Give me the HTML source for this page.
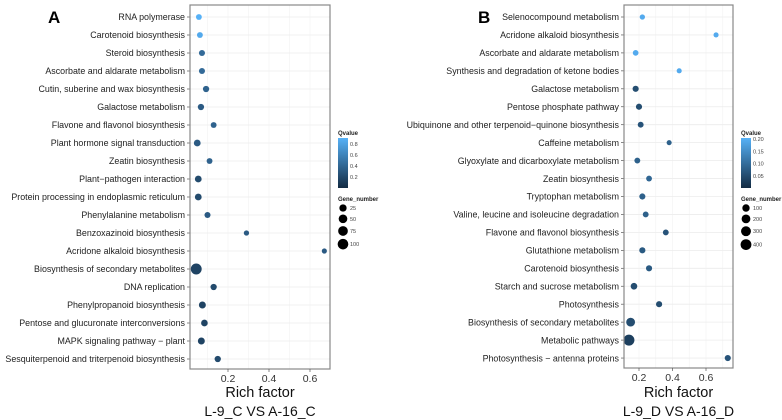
<!DOCTYPE html>
<html><head><meta charset="utf-8"><style>
html,body{margin:0;padding:0;background:#fff;}
svg{display:block;font-family:"Liberation Sans",sans-serif;}
</style></head><body>
<svg id="chart" width="782" height="420" viewBox="0 0 782 420"></svg>
<script>
// ---- Panel A data ----
const catsA=["RNA polymerase","Carotenoid biosynthesis","Steroid biosynthesis","Ascorbate and aldarate metabolism","Cutin, suberine and wax biosynthesis","Galactose metabolism","Flavone and flavonol biosynthesis","Plant hormone signal transduction","Zeatin biosynthesis","Plant\u2212pathogen interaction","Protein processing in endoplasmic reticulum","Phenylalanine metabolism","Benzoxazinoid biosynthesis","Acridone alkaloid biosynthesis","Biosynthesis of secondary metabolites","DNA replication","Phenylpropanoid biosynthesis","Pentose and glucuronate interconversions","MAPK signaling pathway \u2212 plant","Sesquiterpenoid and triterpenoid biosynthesis"];
const richA=[0.058,0.063,0.073,0.073,0.093,0.068,0.13,0.05,0.11,0.055,0.055,0.10,0.29,0.67,0.045,0.13,0.075,0.085,0.07,0.15];
const qA=[0.85,0.8,0.4,0.4,0.35,0.3,0.35,0.3,0.35,0.2,0.2,0.3,0.3,0.3,0.15,0.2,0.15,0.15,0.15,0.2];
const genesA=[8,8,10,10,12,12,8,18,8,18,18,10,4,3,110,12,20,16,20,12];
const ticksA=[0.2,0.4,0.6];
const qTicksA=[0.8,0.6,0.4,0.2];
const gTicksA=[25,50,75,100];
// ---- Panel B data ----
const catsB=["Selenocompound metabolism","Acridone alkaloid biosynthesis","Ascorbate and aldarate metabolism","Synthesis and degradation of ketone bodies","Galactose metabolism","Pentose phosphate pathway","Ubiquinone and other terpenoid\u2212quinone biosynthesis","Caffeine metabolism","Glyoxylate and dicarboxylate metabolism","Zeatin biosynthesis","Tryptophan metabolism","Valine, leucine and isoleucine degradation","Flavone and flavonol biosynthesis","Glutathione metabolism","Carotenoid biosynthesis","Starch and sucrose metabolism","Photosynthesis","Biosynthesis of secondary metabolites","Metabolic pathways","Photosynthesis \u2212 antenna proteins"];
const richB=[0.22,0.66,0.18,0.44,0.18,0.20,0.21,0.38,0.19,0.26,0.22,0.24,0.36,0.22,0.26,0.17,0.32,0.15,0.14,0.73];
const qB=[0.19,0.19,0.19,0.19,0.05,0.05,0.06,0.08,0.08,0.09,0.08,0.08,0.06,0.07,0.07,0.05,0.05,0.05,0.03,0.06];
const genesB=[15,10,25,10,40,40,30,10,30,30,40,30,30,40,40,60,40,200,420,40];
const ticksB=[0.2,0.4,0.6];
const qTicksB=[0.20,0.15,0.10,0.05];
const gTicksB=[100,200,300,400];

const NS="http://www.w3.org/2000/svg";
const svg=document.getElementById('chart');
function mk(tag,attrs,parent,text){const e=document.createElementNS(NS,tag);for(const k in attrs)e.setAttribute(k,attrs[k]);if(text!==undefined)e.textContent=text;(parent||svg).appendChild(e);return e;}
function lerpColor(t){t=Math.max(0,Math.min(1,t));const a=[19,43,67],b=[86,177,247];return `rgb(${Math.round(a[0]+(b[0]-a[0])*t)},${Math.round(a[1]+(b[1]-a[1])*t)},${Math.round(a[2]+(b[2]-a[2])*t)})`;}

function panel(cfg){
  const g=mk('g',{});
  
  
  const L=cfg.left,R=cfg.right,T=cfg.top,B=cfg.bottom;
  const x=v=>cfg.x0+v*cfg.scale;
  const y=i=>cfg.y0+i*cfg.dy;
  const bg=mk('rect',{x:L,y:T,width:R-L,height:B-T,fill:'#fff'},g);
  
  const minors=[];for(let v=0.1;v<=0.9;v+=0.1){const px=x(v);if(px>L&&px<R)minors.push(px);}
  minors.forEach(px=>mk('line',{x1:px,x2:px,y1:T,y2:B,stroke:'#f2f2f2','stroke-width':0.6},g));
  cfg.cats.forEach((c,i)=>mk('line',{x1:L,x2:R,y1:y(i),y2:y(i),stroke:'#ececec','stroke-width':0.8},g));
  cfg.cats.forEach((c,i)=>{
    const r=cfg.rad(cfg.genes[i]);
    const p=mk('circle',{cx:x(cfg.rich[i]),cy:y(i),r:r,fill:lerpColor(cfg.q[i]/cfg.qmax)},g);
    
    
    const lb=mk('text',{x:L-5,y:y(i)+3.2,'text-anchor':'end','font-size':cfg.fs,fill:'#222'},g,c);
    
    
    mk('line',{x1:L-3,x2:L,y1:y(i),y2:y(i),stroke:'#555','stroke-width':0.7},g);
  });
  mk('rect',{x:L,y:T,width:R-L,height:B-T,fill:'none',stroke:'#888','stroke-width':1.2},g);
  cfg.ticks.forEach(v=>{
    mk('line',{x1:x(v),x2:x(v),y1:B,y2:B+3,stroke:'#555','stroke-width':0.7},g);
    const t=mk('text',{x:x(v),y:B+13,'text-anchor':'middle','font-size':10.5,fill:'#333'},g,v.toFixed(1));
    
    
  });
  const xt=mk('text',{x:(L+R)/2,y:397,'text-anchor':'middle','font-size':14.5,fill:'#111'},g,'Rich factor');
  
  const st=mk('text',{x:(L+R)/2,y:416,'text-anchor':'middle','font-size':14,fill:'#111'},g,cfg.sub);
  
  const pl=mk('text',{x:cfg.letterX,y:23,'font-size':17,'font-weight':'bold',fill:'#000'},g,cfg.letter);
  
  const lx=cfg.lx;
  const qt=mk('text',{x:lx,y:135,'font-size':6,'font-weight':'bold',fill:'#222'},g,'Qvalue');
  
  const gradId='grad'+cfg.letter;
  const defs=mk('defs',{},g);
  const lg=mk('linearGradient',{id:gradId,x1:0,y1:1,x2:0,y2:0},defs);
  mk('stop',{offset:'0%','stop-color':lerpColor(0)},lg);
  mk('stop',{offset:'100%','stop-color':lerpColor(1)},lg);
  const cb=mk('rect',{x:lx,y:138,width:10,height:50,fill:`url(#${gradId})`},g);
  
  cfg.qTicks.forEach(v=>{
    const yy=188-(v/cfg.qmax)*50*cfg.qspan;
    mk('text',{x:lx+12,y:yy+2,'font-size':5.5,fill:'#444'},g,cfg.qfmt(v));
  });
  const gt=mk('text',{x:lx,y:201,'font-size':6,'font-weight':'bold',fill:'#222'},g,'Gene_number');
  
  let yy=208;
  cfg.gTicks.forEach(v=>{
    const r=cfg.rad(v);
    const c=mk('circle',{cx:lx+5,cy:yy,r:r,fill:'#000'},g);
    
    mk('text',{x:lx+12,y:yy+2,'font-size':5.5,fill:'#444'},g,String(v));
    yy+=2*r+3.5;
  });
}

panel({name:'panel-a',letter:'A',letterX:48,left:190,right:330,top:5,bottom:369,x0:187,scale:205,y0:17,dy:18,fs:8.9,
  cats:catsA,rich:richA,q:qA,genes:genesA,qmax:0.85,ticks:ticksA,sub:'L-9_C VS A-16_C',
  rad:g=>2+Math.sqrt(g)*0.33,lx:338,qTicks:qTicksA,qspan:0.94,qfmt:v=>v.toFixed(1),gTicks:gTicksA});
panel({name:'panel-b',letter:'B',letterX:478,left:624,right:733,top:5,bottom:368,x0:605.5,scale:167.5,y0:17,dy:17.95,fs:8.9,
  cats:catsB,rich:richB,q:qB,genes:genesB,qmax:0.2,ticks:ticksB,sub:'L-9_D VS A-16_D',
  rad:g=>2+Math.sqrt(g)*0.17,lx:741,qTicks:qTicksB,qspan:0.98,qfmt:v=>v.toFixed(2),gTicks:gTicksB});
</script>
</body></html>
